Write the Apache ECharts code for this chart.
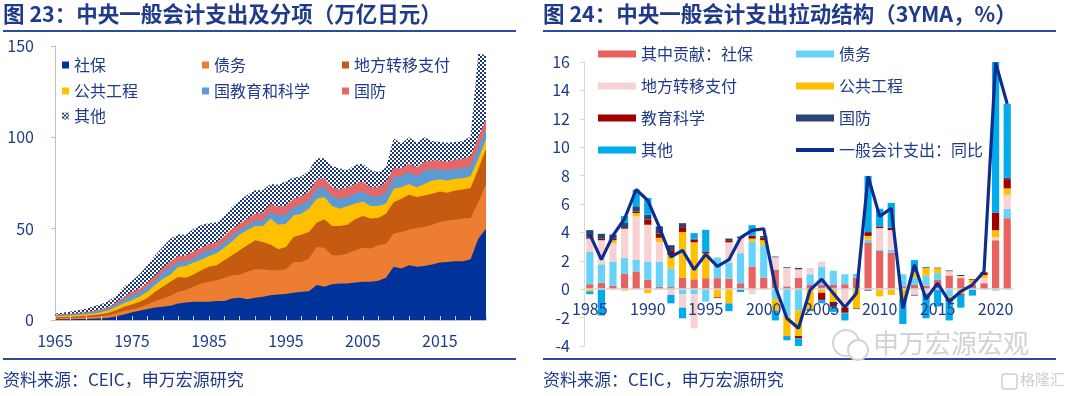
<!DOCTYPE html>
<html>
<head>
<meta charset="utf-8">
<script src="https://cdn.jsdelivr.net/npm/echarts@6/dist/echarts.min.js"></script>
<style>
html, body { margin: 0; padding: 0; background: #fff; }
#wrap { position: relative; width: 1080px; height: 396px; }
#left { position: absolute; left: 0; top: 0; width: 540px; height: 396px; }
#right { position: absolute; left: 540px; top: 0; width: 540px; height: 396px; }
</style>
</head>
<body>
<div id="wrap"><div id="left"></div><div id="right"></div></div>
<script>
// ---- left panel: stacked layers, read as the top edge of each layer (万亿日元)
var years1 = [];
for (var y = 1965; y <= 2021; y++) years1.push(String(y));

var socialTop = [0.4,0.4,0.4,0.5,0.6,0.7,0.9,1.3,2.0,3.0,
  4.2,5.0,6.0,6.8,7.3,7.8,9.1,9.6,10.0,10.0,
  10.0,10.4,10.4,11.8,12.2,11.3,12.2,12.7,13.6,14.0,
  14.2,14.9,15.5,15.8,19.1,18.2,19.6,20.0,20.0,20.5,
  20.9,20.9,21.5,23.1,29.1,28.2,30.0,29.1,29.5,30.4,
  31.5,31.8,32.2,32.2,33.3,44.5,50.0];
var debtTop = [1.0,1.1,1.2,1.3,1.5,1.7,2.0,2.6,3.8,5.0,
  5.8,7.0,8.5,10.2,11.8,13.3,15.5,16.4,18.2,20.0,
  20.9,21.8,23.1,24.5,24.9,26.4,27.8,27.8,27.3,27.3,
  27.8,31.8,31.8,33.6,40.0,39.5,35.5,35.5,36.4,38.2,
  39.5,39.1,40.9,41.8,47.3,48.2,49.6,50.4,50.9,52.2,
  53.6,54.5,54.9,55.5,55.8,64.5,74.5];
var localTop = [1.5,1.6,1.8,2.0,2.3,2.7,3.2,4.0,5.5,7.3,
  8.5,10.0,12.0,15.3,18.2,20.9,23.6,23.1,24.9,27.3,
  29.1,30.0,32.7,35.5,38.2,40.9,43.6,42.7,41.3,38.7,
  40.0,45.5,46.7,48.2,53.3,55.1,51.5,51.5,52.2,55.1,
  56.9,55.5,55.8,58.2,64.5,66.4,68.5,67.3,68.2,69.1,
  70.4,69.6,70.9,71.5,72.2,82.7,93.6];
var publicTop = [2.0,2.2,2.4,2.7,3.1,3.6,4.3,5.3,7.2,9.3,
  11.0,12.8,15.5,19.1,22.4,24.9,29.0,29.5,31.5,33.0,
  35.0,36.5,39.5,43.0,46.8,49.1,51.5,51.3,55.5,52.2,
  52.7,57.3,58.2,60.9,66.4,67.3,62.4,60.9,62.4,63.6,
  64.9,62.4,62.4,63.6,71.8,72.7,74.5,72.7,74.5,76.4,
  76.9,76.4,77.3,77.6,78.7,88.2,99.0];
var eduTop = [2.5,2.7,3.0,3.4,3.8,4.5,5.3,6.6,8.8,11.5,
  13.6,15.3,18.3,21.8,26.0,29.1,31.8,32.3,33.6,36.5,
  38.5,39.5,42.5,46.0,49.5,51.8,54.3,54.5,59.1,57.3,
  57.6,61.8,63.1,65.5,71.8,72.7,67.8,66.4,67.3,69.1,
  70.4,67.8,67.3,69.6,78.2,78.7,80.9,78.7,81.8,82.4,
  82.4,81.8,82.7,83.1,84.2,94.5,104.5];
var defenseTop = [2.9,3.1,3.4,3.8,4.3,5.0,5.9,7.3,9.8,12.8,
  15.5,17.3,20.5,24.5,28.5,32.2,35.1,35.3,37.3,39.5,
  41.5,42.5,46.0,50.0,52.7,55.5,58.2,58.7,63.6,61.8,
  62.7,66.4,67.8,70.4,76.9,77.6,72.7,71.5,72.7,74.5,
  75.8,72.7,72.7,75.5,83.1,83.1,85.5,83.6,86.7,87.3,
  87.3,86.7,87.8,88.2,89.6,100.0,110.0];
var totalTop = [3.6,4.0,4.6,5.3,6.2,7.5,8.6,10.5,13.5,18.5,
  21.5,25.0,30.0,35.5,40.0,44.5,47.0,46.5,50.0,52.0,
  53.0,53.5,57.0,62.0,65.5,68.5,71.0,71.0,74.5,74.0,
  76.0,78.0,78.5,82.0,88.5,88.5,84.5,83.0,82.0,85.0,
  85.5,82.0,81.0,83.5,99.5,96.5,100.0,97.0,100.0,98.0,
  97.5,97.0,97.5,98.0,100.5,146.0,145.0];

// ---- right panel: contributions (3YMA, %)
var years2 = [];
for (var y2 = 1985; y2 <= 2021; y2++) years2.push(String(y2));

var cSocial = [0.35,0.45,0.25,1.08,1.25,0.66,0.16,0.15,0.82,0.7,
  0.78,0.78,0.75,0.42,1.6,0.8,1.35,0.2,0.8,0.3,
  0.3,0.3,0.35,0.8,3.3,2.7,2.57,0.2,0.3,0.25,
  0.66,0.97,0.78,0.3,0.42,3.45,5.0];
var cDebt = [2.27,1.3,1.7,1.11,0.82,1.29,1.76,1.3,-0.35,-0.35,
  -0.87,1.45,1.1,2.12,1.76,2.3,-0.7,-1.9,-1.5,0.75,
  1.3,1.0,0.7,0.2,0.2,0.1,0.19,0.85,0.5,0.7,
  0.47,-0.5,0,0,0,-0.1,0.65];
var cLocal = [0.94,1.7,1.3,2.07,3.06,2.59,1.4,-0.4,-0.95,-2.4,
  0,0,1.45,1.06,-0.35,0,0.9,1.3,0.6,0.45,
  0.35,0,-1.1,0,0,1.5,1.4,0,-0.4,-0.3,
  0,0.3,0.15,0.15,0.36,0.2,1.0];
var cPublic = [-0.15,0,0.2,-0.1,0.23,-0.28,0.3,0.95,3.2,2.6,
  1.75,-0.55,-1.0,0,0.2,0.35,-0.8,-1.4,-1.8,-1.4,
  -0.25,-0.9,-0.2,-1.35,0.25,-0.5,-0.4,-0.7,0.4,0.55,
  0.35,-0.15,-0.35,0.2,0.22,0.5,0.45];
var cEdu = [0.1,0.1,0.1,0.05,0.1,0.36,0.3,0.35,0.35,0.2,
  0.1,-0.05,0.15,0,0.2,0.2,0,0,-0.15,-0.05,
  -0.5,-0.3,-0.35,0,0.27,0.12,0.17,0,0,0,
  0,-0.2,-0.05,0.05,0.15,1.25,0.65];
var cDefense = [0.5,0.35,0.3,0.35,0.38,0.35,0.5,0.35,0.28,0.05,
  0,0,0.12,0.1,0,0.1,0.05,0.05,0.1,0,
  -0.05,-0.1,-0.05,-0.05,-0.1,0,0,0,-0.05,0.05,
  0.04,0.05,0.07,0,0.05,0,0.1];
var cOther = [-0.2,-1.85,0,0.5,1.16,1.17,0,-0.6,-0.75,0.4,
  1.55,0,-0.55,-0.2,0.75,0,-0.7,-0.3,-0.6,-0.1,
  -0.2,-0.3,-0.5,0.05,3.95,1.25,1.75,-1.75,0.85,-1.75,
  -1.22,-1.35,-0.9,-0.45,0,10.6,5.2];
var spendYoY = [3.86,2.08,3.79,4.96,7.02,6.25,4.37,2.27,2.74,1.38,
  2.46,1.61,2.08,3.63,4.14,4.26,0.19,-2.05,-2.75,-0.05,
  0.7,-0.28,-1.27,-0.28,7.95,5.13,5.7,-1.34,1.72,-0.7,
  0.42,-0.87,-0.16,0.31,1.25,15.95,13.05];

var FONT = '"Noto Sans CJK SC", "Noto Sans", sans-serif';
var NAVY = '#1F3A8A';
var RULE = '#2B4C9E';

function checker() {
  var c = document.createElement('canvas');
  c.width = 4; c.height = 4;
  var ctx = c.getContext('2d');
  ctx.fillStyle = '#ffffff';
  ctx.fillRect(0, 0, 4, 4);
  ctx.fillStyle = '#1C3A78';
  ctx.fillRect(0, 0, 2, 2);
  ctx.fillRect(2, 2, 2, 2);
  return c;
}

function frame(title) {
  return [
    {type: 'text', left: 3, top: 3, style: {text: title, font: 'bold 21.5px ' + FONT, fill: NAVY}},
    {type: 'rect', shape: {x: 3, y: 30, width: 513, height: 2}, style: {fill: RULE}},
    {type: 'rect', shape: {x: 3, y: 358, width: 513, height: 2}, style: {fill: RULE}},
    {type: 'text', left: 3, top: 371, style: {text: '资料来源：CEIC，申万宏源研究', font: '17px ' + FONT, fill: NAVY}}
  ];
}

function legendAt(name, x, y, w, h) {
  return {
    data: [{name: name, icon: 'rect'}],
    left: x, top: y - 9,
    itemWidth: w, itemHeight: h,
    selectedMode: false,
    textStyle: {color: NAVY, fontSize: 16, fontFamily: FONT}
  };
}

// ---------------- left chart
var leftChart = echarts.init(document.getElementById('left'));
var hatch = {image: checker(), repeat: 'repeat'};

function area(name, data, color) {
  return {
    name: name, type: 'line', data: data,
    symbol: 'none', smooth: false,
    lineStyle: {width: 0},
    itemStyle: {color: color},
    areaStyle: {color: color, opacity: 1}
  };
}

leftChart.setOption({
  animation: false,
  graphic: frame('图 23：中央一般会计支出及分项（万亿日元）'),
  legend: [
    legendAt('社保', 57, 61, 7, 7),
    legendAt('债务', 197, 61, 7, 7),
    legendAt('地方转移支付', 337, 61, 7, 7),
    legendAt('公共工程', 57, 87, 7, 7),
    legendAt('国教育和科学', 197, 87, 7, 7),
    legendAt('国防', 337, 87, 7, 7),
    legendAt('其他', 57, 112, 7, 7)
  ],
  grid: {left: 55, top: 46, width: 431, height: 274},
  xAxis: {
    type: 'category', data: years1, boundaryGap: false, z: 5,
    axisLine: {lineStyle: {color: '#BFBFBF'}},
    axisTick: {show: true, inside: true, interval: 1, length: 4, lineStyle: {color: '#D0D0D0'}},
    axisLabel: {interval: 9, color: NAVY, fontSize: 16, fontFamily: FONT, margin: 13}
  },
  yAxis: {
    type: 'value', min: 0, max: 150, interval: 50,
    splitLine: {show: false},
    axisLine: {show: true, lineStyle: {color: '#BFBFBF'}},
    axisTick: {show: true, length: 4, lineStyle: {color: '#BFBFBF'}},
    axisLabel: {color: NAVY, fontSize: 16, fontFamily: FONT, margin: 21}
  },
  series: [
    area('其他', totalTop, hatch),
    area('国防', defenseTop, '#E46868'),
    area('国教育和科学', eduTop, '#5B9BD5'),
    area('公共工程', publicTop, '#FFC000'),
    area('地方转移支付', localTop, '#C55A11'),
    area('债务', debtTop, '#ED7D31'),
    area('社保', socialTop, '#003399')
  ]
});

// ---------------- right chart
var rightChart = echarts.init(document.getElementById('right'));

function bar(name, data, color) {
  return {
    name: name, type: 'bar', stack: 'c', data: data,
    barWidth: '62%', itemStyle: {color: color}
  };
}

var rightGraphic = frame('图 24：中央一般会计支出拉动结构（3YMA，%）');
rightGraphic.push(
  {type: 'circle', shape: {cx: 306, cy: 343, r: 13}, style: {fill: 'none', stroke: '#D4D4D4', lineWidth: 2}},
  {type: 'circle', shape: {cx: 318, cy: 350, r: 10}, style: {fill: '#fff', stroke: '#D4D4D4', lineWidth: 2}},
  {type: 'text', left: 333, top: 330, style: {text: '申万宏源宏观', font: '26px ' + FONT, fill: '#D2D2D2'}},
  {type: 'rect', shape: {x: 462, y: 374, width: 15, height: 15, r: 3}, style: {fill: 'none', stroke: '#CFCFCF', lineWidth: 1.5}},
  {type: 'text', left: 480, top: 372, style: {text: '格隆汇', font: '15px ' + FONT, fill: '#CFCFCF'}}
);

rightChart.setOption({
  animation: false,
  graphic: rightGraphic,
  legend: [
    legendAt('其中贡献：社保', 53, 50, 38, 7),
    legendAt('债务', 251, 50, 38, 7),
    legendAt('地方转移支付', 53, 82, 38, 7),
    legendAt('公共工程', 251, 82, 38, 7),
    legendAt('教育科学', 53, 114, 38, 7),
    legendAt('国防', 251, 114, 38, 7),
    legendAt('其他', 53, 146, 38, 7),
    legendAt('一般会计支出：同比', 251, 146, 38, 4)
  ],
  grid: {left: 44, top: 62, width: 429, height: 284},
  xAxis: {
    // the category axis sits on the zero line (value range -4..16 over 284px)
    type: 'category', data: years2, z: 5,
    offset: -57,
    axisLine: {onZero: false, lineStyle: {color: '#D9D9D9', width: 1.5}},
    axisTick: {show: false},
    axisLabel: {interval: 4, color: NAVY, fontSize: 16, fontFamily: FONT, margin: 12}
  },
  yAxis: {
    type: 'value', min: -4, max: 16, interval: 2,
    splitLine: {show: false},
    axisLine: {show: true, lineStyle: {color: '#D9D9D9'}},
    axisTick: {show: true, length: 4, lineStyle: {color: '#D9D9D9'}},
    axisLabel: {color: NAVY, fontSize: 16, fontFamily: FONT, margin: 14}
  },
  series: [
    bar('其中贡献：社保', cSocial, '#E8625F'),
    bar('债务', cDebt, '#66D4FA'),
    bar('地方转移支付', cLocal, '#F8D2D2'),
    bar('公共工程', cPublic, '#FFC000'),
    bar('教育科学', cEdu, '#A00000'),
    bar('国防', cDefense, '#2A4473'),
    bar('其他', cOther, '#00ABEB'),
    {
      name: '一般会计支出：同比', type: 'line', data: spendYoY,
      symbol: 'none', z: 5,
      lineStyle: {color: '#0E2D8E', width: 3.2},
      itemStyle: {color: '#0E2D8E'}
    }
  ]
});
</script>
</body>
</html>
